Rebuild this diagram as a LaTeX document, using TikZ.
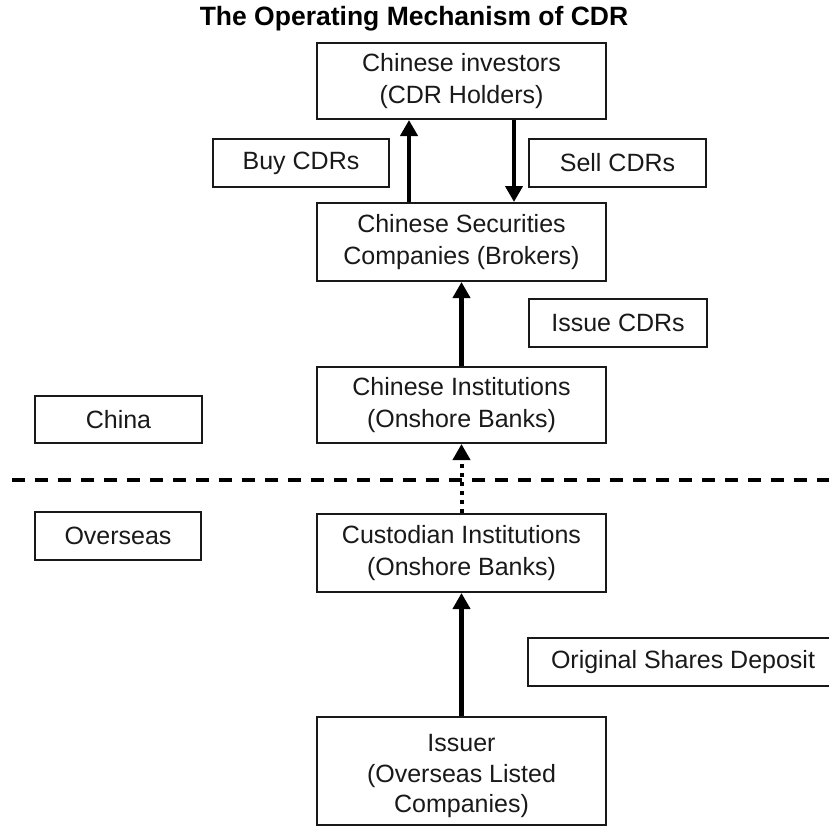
\documentclass[tikz,border=0pt]{standalone}
\usepackage{fontspec}
\setmainfont{Liberation Sans}
\usetikzlibrary{arrows.meta}
\begin{document}
\begin{tikzpicture}[x=1pt,y=-1pt,
  box/.style={draw=black!90,line width=2pt,sharp corners,align=center,inner sep=0pt,
    font=\fontsize{25}{32}\selectfont,text=black!90},
  flow/.style={line width=4.5pt,-{Triangle[width=17pt,length=16pt]}},
  dotflow/.style={line width=4pt,dash pattern=on 4pt off 5pt,-{Triangle[width=17pt,length=16pt]}},
  divider/.style={line width=3.5pt,dash pattern=on 13pt off 10pt}]
\useasboundingbox (0,0) rectangle (829,827);
\node[font=\fontsize{26.5}{30}\selectfont\bfseries] (title) at (414,19) {The Operating Mechanism of CDR};
\node[box,minimum width=289pt,minimum height=76pt] (inv) at (461.5,81) {Chinese investors\\(CDR Holders)};
\node[box,minimum width=176pt,minimum height=48pt] (buy) at (301,163) {Buy CDRs};
\node[box,minimum width=177pt,minimum height=48pt] (sell) at (617.5,163) {Sell CDRs};
\node[box,minimum width=289pt,minimum height=78pt] (sec) at (461.5,242) {Chinese Securities\\Companies (Brokers)};
\node[box,minimum width=178pt,minimum height=48pt] (issue) at (618,323) {Issue CDRs};
\node[box,minimum width=289pt,minimum height=76pt] (inst) at (461.5,405) {Chinese Institutions\\(Onshore Banks)};
\node[box,minimum width=167pt,minimum height=47pt] (china) at (118.5,419.5) {China};
\coordinate (dl) at (12,480);
\coordinate (dr) at (835,480);
\draw[divider] (dl) -- (dr);
\node[box,minimum width=166pt,minimum height=48pt] (overseas) at (118,536) {Overseas};
\node[box,minimum width=289pt,minimum height=78pt] (cust) at (461.5,553) {Custodian Institutions\\(Onshore Banks)};
\node[box,minimum width=310pt,minimum height=48pt] (orig) at (683,662) {Original Shares Deposit};
\node[box,minimum width=289pt,minimum height=108pt] (issuer) at (461.5,771) {\raisebox{-5pt}[\height][\depth]{\fontsize{25}{30.5}\selectfont\begin{tabular}{@{}c@{}}Issuer\\(Overseas Listed\\Companies)\end{tabular}}};
\draw[flow] ([xshift=-52.5pt]sec.north) -- ([xshift=-52.5pt]inv.south);
\draw[flow] ([xshift=52.5pt]inv.south) -- ([xshift=52.5pt]sec.north);
\draw[flow] (inst.north) -- (sec.south);
\draw[dotflow] (cust.north) -- (inst.south);
\draw[flow] (issuer.north) -- (cust.south);
\end{tikzpicture}
\end{document}
